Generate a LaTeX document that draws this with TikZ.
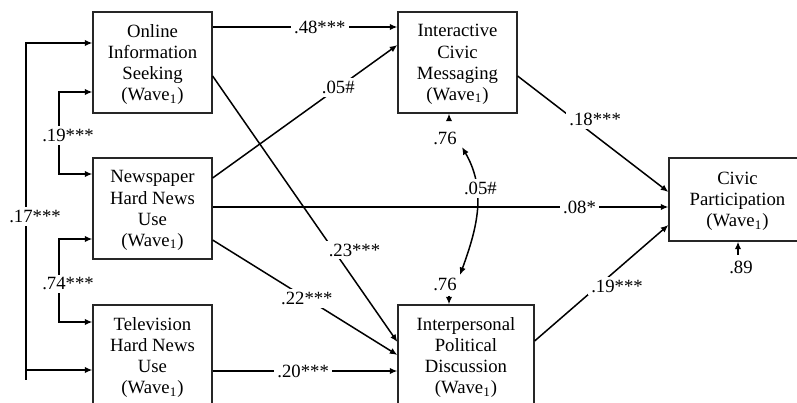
\documentclass[tikz,border=0pt]{standalone}
\usepackage{fontspec}
\setmainfont{Liberation Serif}
\usetikzlibrary{arrows.meta}
\begin{document}
\begin{tikzpicture}[x=0.5pt,y=-0.5pt,
  every node/.style={font=\fontsize{9.35}{10.6}\selectfont},
  var/.style={draw=black!85, line width=0.6pt, align=center, inner sep=0pt,
    text depth=0pt, minimum width=59.5pt, minimum height=50.5pt},
  lbl/.style={fill=white, inner sep=1.5pt},
  res/.style={inner sep=0.5pt},
  effect/.style={line width=0.75pt, -{Latex[length=3.8pt,width=3.2pt]}},
  twoway/.style={line width=0.75pt,
    {Latex[length=3.8pt,width=3.2pt]}-{Latex[length=3.8pt,width=3.2pt]}}]

\useasboundingbox (0,0) rectangle (797,402);

% variables
\node[var] (ois) at (152.5,62.5) {Online\\Information\\Seeking\\(Wave\textsubscript{1})};
\node[var] (news) at (152.5,208.5) {Newspaper\\Hard News\\Use\\(Wave\textsubscript{1})};
\node[var] (tv) at (152.5,355.5) {Television\\Hard News\\Use\\(Wave\textsubscript{1})};
\node[var] (icm) at (457.5,62.5) {Interactive\\Civic\\Messaging\\(Wave\textsubscript{1})};
\node[var, minimum width=68pt] (ipd) at (466,355.5) {Interpersonal\\Political\\Discussion\\(Wave\textsubscript{1})};
\node[var, minimum width=68.5pt, minimum height=41.5pt] (cp) at (737.5,199.5) {Civic\\Participation\\(Wave\textsubscript{1})};

% correlations among the exogenous media-use variables
\draw[twoway] (ois.west |- 0,43) -- (26,43)
  -- node[lbl,pos=0.53,xshift=4.5pt] (l17) {.17***} (26,370) -- (tv.west |- 0,370);
\draw[line width=0.75pt] (26,370) -- (26,380);
\draw[twoway] (ois.west |- 0,92) -- (59,92)
  -- node[lbl,pos=0.53,xshift=4.5pt] (l19a) {.19***} (59,174) -- (news.west |- 0,174);
\draw[twoway] (news.west |- 0,239) -- (59,239)
  -- node[lbl,pos=0.54,xshift=4.5pt] (l74) {.74***} (59,322) -- (tv.west |- 0,322);

% direct paths
\draw[effect] (ois.east |- 0,27) -- node[lbl,pos=0.58] (l48) {.48***} (icm.west |- 0,27);
\draw[effect] (ois.east |- 0,76) -- node[lbl,pos=0.654,xshift=10.5pt] (l23) {.23***} (ipd.west |- 0,342);
\draw[effect] (news.east |- 0,178) -- node[lbl,pos=0.68] (l05) {.05\#} (icm.west |- 0,45);
\draw[effect] (news.east |- 0,207) -- node[lbl,pos=0.805] (l08) {.08*} (cp.west |- 0,207);
\draw[effect] (news.east |- 0,240) -- node[lbl,pos=0.51] (l22) {.22***} (ipd.west |- 0,355);
\draw[effect] (tv.east |- 0,371) -- node[lbl,pos=0.49] (l20) {.20***} (ipd.west |- 0,371);
\draw[effect] (icm.east |- 0,76) -- node[lbl,pos=0.375,xshift=10.5pt] (l18) {.18***} (cp.west |- 0,192);
\draw[effect] (ipd.east |- 0,341) -- node[lbl,pos=0.474,xshift=9.5pt] (l19b) {.19***} (cp.west |- 0,225);

% residuals
\node[res] (e1) at (445,138) {.76};
\draw[effect] ([xshift=2pt,yshift=5.3pt]e1.north) -- ([xshift=2pt]e1.north |- icm.south);
\node[res] (e2) at (445,284) {.76};
\draw[effect] ([xshift=2pt,yshift=-2pt]e2.south) -- ([xshift=2pt]e2.south |- ipd.north);
\node[res] (e3) at (741,267) {.89};
\draw[effect] ([xshift=-1.5pt,yshift=2.3pt]e3.north) -- ([xshift=-1.5pt]e3.north |- cp.south);

% residual covariance
\coordinate (ct) at (462,147);
\coordinate (cb) at (460,275);
\draw[twoway] (ct) to[out=-60,in=70] node[lbl,pos=0.33,xshift=2pt] (lc) {.05\#} (cb);
\end{tikzpicture}
\end{document}
